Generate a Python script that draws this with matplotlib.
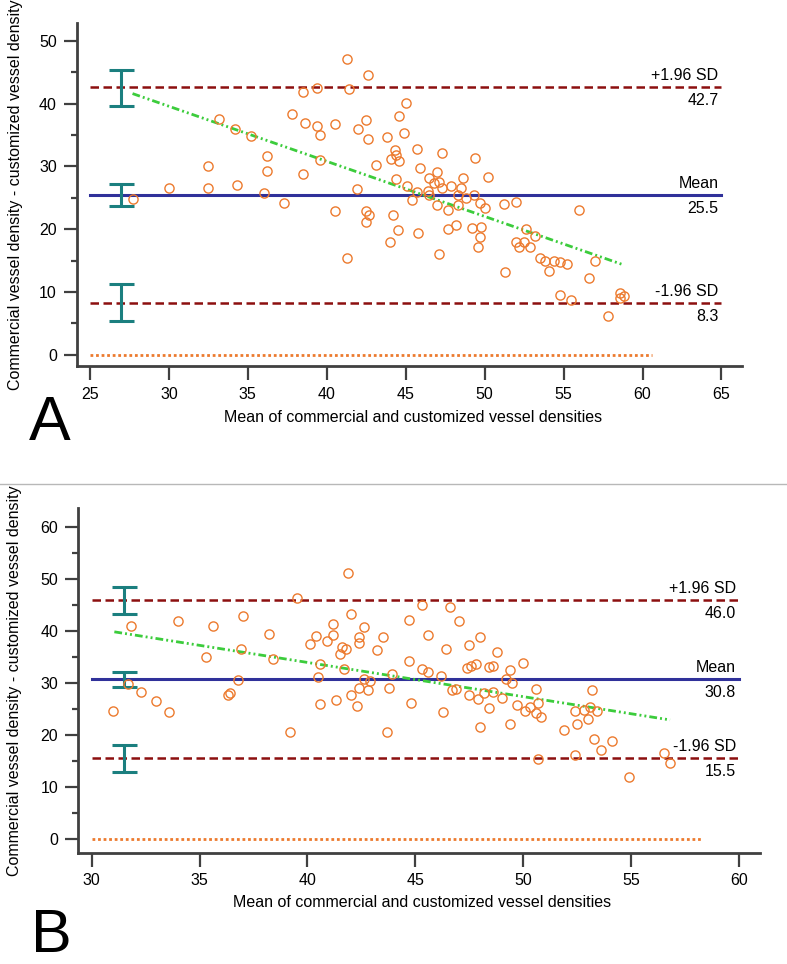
# Bland-Altman plots: commercial vs customized vessel density (panels A and B)
import matplotlib
matplotlib.use('Agg')
import matplotlib.pyplot as plt
from matplotlib.lines import Line2D
from matplotlib.ticker import MultipleLocator

plt.rcParams['font.family'] = ['Liberation Sans', 'DejaVu Sans']
plt.rcParams['font.size'] = 11.5

# ---- Panel A data ----
a_avg = [27.7, 30.0, 32.5, 32.5, 33.2, 34.2, 34.3, 35.2, 36.2, 36.2,
         36.0, 37.3, 37.8, 38.5, 38.6, 38.5, 39.4, 39.4, 39.6, 39.6,
         40.5, 40.5, 41.3, 41.4, 42.0, 41.9, 42.5, 42.6, 42.6, 43.1,
         42.5, 42.7, 42.5, 41.3, 43.8, 44.3, 44.4, 44.1, 44.6, 44.6,
         44.9, 45.0, 44.4, 45.1, 45.4, 44.2, 44.5, 44.0,
         45.7, 47.3, 49.4, 45.9, 47.0, 46.5, 47.1, 46.8, 47.3, 47.9,
         48.6, 48.5, 50.2, 45.7, 46.4, 46.5, 48.3, 48.8, 49.3, 47.0,
         47.7, 48.3, 49.7, 50.0, 51.2, 52.0, 56.0, 45.8, 47.1, 47.7,
         48.2, 49.2, 49.8, 49.7, 49.6, 52.6, 53.2, 52.0, 52.5, 52.2,
         52.9, 51.3, 53.5, 53.8, 54.4, 54.1, 54.8, 55.2, 57.0, 56.6,
         54.8, 55.5, 58.6, 58.6, 58.8, 57.8]
a_diff = [24.8, 26.6, 30.1, 26.5, 37.6, 35.9, 27.0, 34.9, 31.6, 29.3,
          25.8, 24.1, 38.4, 41.8, 36.9, 28.8, 42.5, 36.5, 35.0, 31.1,
          36.7, 22.9, 47.1, 42.3, 36.0, 26.4, 37.4, 34.4, 44.6, 30.2,
          22.9, 22.3, 21.2, 15.4, 34.7, 32.6, 31.8, 31.2, 30.8, 38.0,
          35.4, 40.1, 28.0, 26.8, 24.6, 22.3, 19.8, 17.9,
          32.7, 32.1, 31.3, 29.8, 29.1, 28.1, 27.5, 27.4, 26.6, 26.8,
          28.1, 26.6, 28.3, 26.0, 26.1, 25.5, 25.5, 24.9, 25.5, 23.8,
          23.1, 23.9, 24.1, 23.4, 24.0, 24.4, 23.1, 19.4, 16.1, 20.1,
          20.6, 20.2, 20.4, 18.8, 17.1, 20.0, 18.9, 18.0, 17.9, 17.1,
          17.1, 13.1, 15.4, 15.0, 15.0, 13.3, 14.7, 14.5, 15.0, 12.2,
          9.5, 8.7, 9.9, 9.0, 9.4, 6.1]
a_limits = [42.7, 25.5, 8.3]          # +1.96 SD, mean, -1.96 SD
a_limit_text = ['42.7', '25.5', '8.3']
a_ci_low = [39.6, 23.75, 5.4]
a_ci_high = [45.4, 27.15, 11.3]
a_fit_x = [27.7, 58.7]
a_fit_y = [41.6, 14.4]

# ---- Panel B data ----
b_avg = [31.0, 31.8, 31.7, 32.3, 33.0, 33.6, 34.0, 35.3, 35.6, 36.3,
         36.4, 36.8, 36.9, 37.0, 38.2, 38.4, 39.2, 39.5, 40.1, 40.4,
         40.6, 40.5, 40.6, 40.9, 41.2, 41.2, 41.3, 41.6, 41.8, 41.5,
         41.7, 41.9, 42.0, 42.0, 42.3, 42.4, 42.4, 42.4, 42.6, 42.6,
         42.8, 42.9, 43.2, 43.5, 43.8, 43.7, 43.9,
         45.3, 46.6, 44.7, 47.0, 45.6, 48.0, 47.5, 46.4, 48.8, 44.7,
         45.3, 45.6, 46.2, 47.4, 47.6, 47.8, 48.4, 48.6, 49.4, 50.0,
         49.2, 49.5, 46.7, 46.9, 47.5, 47.9, 48.2, 48.6, 49.0, 50.6,
         53.2, 44.8, 46.3, 48.4, 49.7, 50.3, 50.1, 50.7, 50.6, 50.8,
         52.4, 52.8, 53.1, 53.4, 53.0, 52.5, 51.9, 49.4, 48.0, 53.3,
         54.1, 53.6, 52.4, 50.7, 56.5, 56.8, 54.9]
b_diff = [24.7, 40.9, 29.8, 28.2, 26.5, 24.4, 41.8, 34.9, 40.9, 27.7,
          28.1, 30.6, 36.5, 42.9, 39.4, 34.6, 20.5, 46.3, 37.4, 39.0,
          33.7, 31.2, 26.0, 38.1, 41.3, 39.2, 26.8, 36.8, 36.5, 35.6,
          32.7, 51.1, 43.2, 27.6, 25.5, 29.0, 38.9, 37.7, 40.7, 30.8,
          28.7, 30.4, 36.4, 38.8, 29.1, 20.5, 31.7,
          44.9, 44.5, 42.0, 41.9, 39.2, 38.9, 37.2, 36.5, 35.9, 34.2,
          32.6, 32.0, 31.3, 32.8, 33.2, 33.6, 33.0, 33.3, 32.5, 33.8,
          30.7, 29.9, 28.7, 28.9, 27.6, 26.9, 28.0, 28.3, 27.1, 28.9,
          28.7, 26.2, 24.4, 25.1, 25.7, 25.3, 24.6, 26.2, 24.2, 23.5,
          24.6, 24.8, 25.3, 24.7, 23.0, 22.1, 20.9, 22.1, 21.6, 19.3,
          18.9, 17.1, 16.2, 15.4, 16.5, 14.6, 12.0]
b_limits = [46.0, 30.8, 15.5]
b_limit_text = ['46.0', '30.8', '15.5']
b_ci_low = [43.3, 29.2, 12.9]
b_ci_high = [48.4, 32.1, 18.0]
b_fit_x = [31.05, 56.8]
b_fit_y = [39.8, 22.9]

limit_names = ['+1.96 SD', 'Mean', '-1.96 SD']

# colours
ORANGE = '#ec7a2e'
DARKRED = '#8c0f0f'
NAVY = '#30319a'
TEAL = '#1b7f7f'
GREEN = '#3ccc3c'
AXIS = '#404040'
XLABEL = 'Mean of commercial and customized vessel densities'
YLABEL = 'Commercial vessel density - customized vessel density'


def draw_panel(ax, avg, diff, limits, limit_text, ci_low, ci_high, ci_x,
               fit_x, fit_y, span, zero_end, xlim, ylim, xticks, ymax, ylab_x, xlab_xy):
    # zero line
    ax.plot([span[0], zero_end], [0, 0], color=ORANGE, lw=2.0,
            linestyle=(0, (1, 1)), zorder=1)
    # limits of agreement and mean
    for i, val in enumerate(limits):
        if i == 1:
            ax.plot(span, [val, val], color=NAVY, lw=2.2, zorder=2)
        else:
            ax.plot(span, [val, val], color=DARKRED, lw=1.8,
                    dashes=(3.4, 1.8), zorder=2)
        ax.annotate(limit_names[i], (span[1], val), xytext=(-3, 4),
                    textcoords='offset pixels', ha='right', va='bottom')
        ax.annotate(limit_text[i], (span[1], val), xytext=(-3, -6),
                    textcoords='offset pixels', ha='right', va='top')
    # confidence intervals
    for lo, hi in zip(ci_low, ci_high):
        mid = (lo + hi) / 2
        ax.errorbar([ci_x], [mid], yerr=[[mid - lo], [hi - mid]], fmt='none',
                    ecolor=TEAL, elinewidth=2.2, capsize=9, capthick=2.2, zorder=3)
    # regression line
    ax.plot(fit_x, fit_y, color=GREEN, lw=2,
            linestyle=(0, (2.8, 1.1, 0.7, 1.1, 0.7, 1.1)), zorder=4)
    # points
    ax.plot(avg, diff, 'o', markersize=6.6, markerfacecolor='none',
            markeredgecolor=ORANGE, markeredgewidth=1.0, zorder=5)

    ax.set_xlim(*xlim)
    ax.set_ylim(*ylim)
    ax.set_xticks(xticks)
    ax.yaxis.set_major_locator(MultipleLocator(10))
    ax.yaxis.set_minor_locator(MultipleLocator(5))
    ax.set_yticks(list(range(0, ymax + 1, 10)))
    for s in ['top', 'right']:
        ax.spines[s].set_visible(False)
    for s in ['left', 'bottom']:
        ax.spines[s].set_color(AXIS)
        ax.spines[s].set_linewidth(2)
    ax.tick_params(which='major', direction='out', length=9.5, width=1.6,
                   color=AXIS, labelsize=11.5, pad=5)
    ax.tick_params(axis='x', which='major', length=10, pad=5)
    ax.tick_params(which='minor', direction='out', length=4.5, width=1.6, color=AXIS)
    ax.tick_params(axis='x', which='minor', length=0)

    ax.set_ylabel(YLABEL, fontsize=11.5, va='center')
    ax.yaxis.set_label_coords(ylab_x, 0.5)
    ax.set_xlabel(XLABEL, fontsize=11.5, va='center')
    ax.xaxis.set_label_coords(*xlab_xy)


fig = plt.figure(figsize=(7.87, 9.64), dpi=100)

axA = fig.add_axes([0.0978, 0.6203, 0.8450, 0.3562])
draw_panel(axA, a_avg, a_diff, a_limits, a_limit_text, a_ci_low, a_ci_high, 27.0,
           a_fit_x, a_fit_y, (25, 65), 60.6, (24.18, 66.3), (-1.8, 52.9),
           list(range(25, 66, 5)), 50, -0.093, (0.505, -0.149))

axB = fig.add_axes([0.0995, 0.1155, 0.8662, 0.3572])
draw_panel(axB, b_avg, b_diff, b_limits, b_limit_text, b_ci_low, b_ci_high, 31.5,
           b_fit_x, b_fit_y, (30, 60), 58.3, (29.38, 60.97), (-2.57, 63.5),
           list(range(30, 61, 5)), 60, -0.093, (0.504, -0.145))

# panel letters and divider
fig.text(0.037, 1 - 440 / 964, 'A', fontsize=45, ha='left', va='baseline')
fig.text(0.040, 1 - 952 / 964, 'B', fontsize=44, ha='left', va='baseline')
fig.add_artist(Line2D([0, 1], [1 - 484 / 964, 1 - 484 / 964], color='#b8b8b8', lw=1))

fig.savefig('out.png', dpi=100)
